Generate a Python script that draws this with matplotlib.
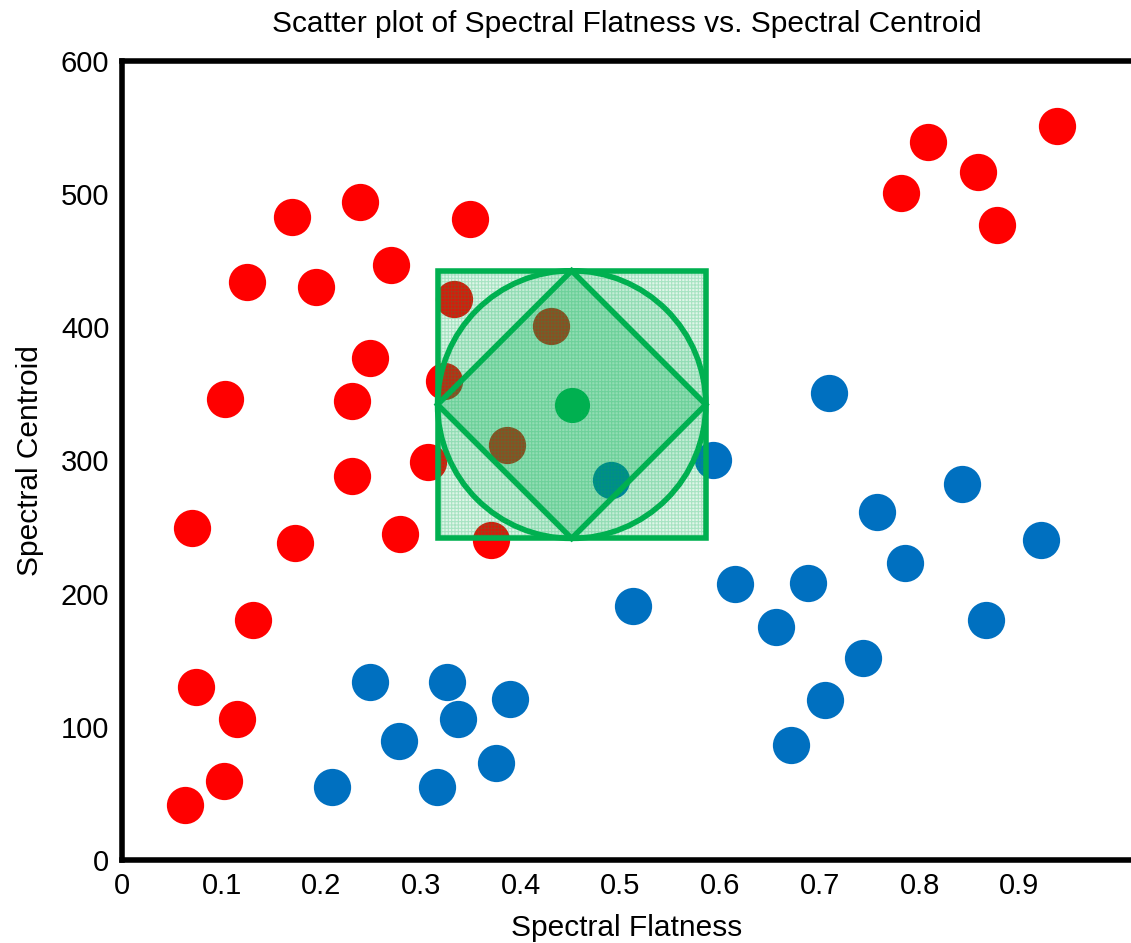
import numpy as np
import matplotlib
matplotlib.use('Agg')
import matplotlib.pyplot as plt
from matplotlib.patches import Rectangle, Ellipse, Polygon

plt.rcParams['font.family'] = ['Liberation Sans', 'DejaVu Sans']
plt.rcParams['hatch.linewidth'] = 0.8

# red cluster (x = spectral flatness, y = spectral centroid)
red_x = [0.938, 0.808, 0.859, 0.781, 0.878, 0.239, 0.171, 0.349, 0.270, 0.125,
         0.195, 0.333, 0.249, 0.430, 0.323, 0.103, 0.231, 0.386, 0.307, 0.231,
         0.070, 0.174, 0.279, 0.370, 0.131, 0.074, 0.115, 0.102, 0.063]
red_y = [551, 539, 517, 501, 477, 494, 483, 481, 447, 434,
         430, 421, 377, 401, 360, 346, 345, 312, 299, 288,
         249, 238, 245, 240, 180, 130, 106, 59, 41]

# blue cluster
blue_x = [0.709, 0.593, 0.490, 0.843, 0.757, 0.922, 0.785, 0.615, 0.688, 0.513,
          0.656, 0.867, 0.743, 0.249, 0.326, 0.389, 0.337, 0.705, 0.278, 0.671,
          0.375, 0.211, 0.316]
blue_y = [351, 300, 285, 282, 261, 240, 223, 207, 208, 191,
          175, 180, 152, 134, 134, 121, 106, 120, 89, 86,
          73, 55, 55]

# query point and neighbourhood half-size
center = (0.451, 342)
half_x = 0.1345
half_y = 100.5

red = '#FF0000'
blue = '#0070C0'
green = '#00B050'

fig = plt.figure(figsize=(11.31, 9.43), dpi=100)
ax = fig.add_axes([122 / 1131, 83 / 943, 1 - 122 / 1131, (860 - 61) / 943])

ax.scatter(red_x, red_y, s=720, color=red, linewidths=0, zorder=2)
ax.scatter(blue_x, blue_y, s=720, color=blue, linewidths=0, zorder=2)

cx, cy = center
x0, x1 = cx - half_x, cx + half_x
y0, y1 = cy - half_y, cy + half_y

# square neighbourhood, hatched fill
ax.add_patch(Rectangle((x0, y0), x1 - x0, y1 - y0, facecolor=green, alpha=0.12,
                       linewidth=0, zorder=3))
ax.add_patch(Rectangle((x0, y0), x1 - x0, y1 - y0, facecolor='none', edgecolor=green,
                       hatch='+++++', alpha=0.25, linewidth=0, zorder=3))
ax.add_patch(Rectangle((x0, y0), x1 - x0, y1 - y0, facecolor='none', edgecolor=green,
                       linewidth=4, zorder=5))

# circle (ellipse in data units, round on screen)
ax.add_patch(Ellipse((cx, cy), 2 * half_x, 2 * half_y, facecolor=green, alpha=0.12,
                     linewidth=0, zorder=3))
ax.add_patch(Ellipse((cx, cy), 2 * half_x, 2 * half_y, facecolor='none', edgecolor=green,
                     linewidth=4, zorder=5))

# diamond
diamond = [(cx, y1), (x1, cy), (cx, y0), (x0, cy)]
ax.add_patch(Polygon(diamond, closed=True, facecolor=green, alpha=0.25,
                     linewidth=0, zorder=3))
ax.add_patch(Polygon(diamond, closed=True, facecolor='none', edgecolor=green,
                     linewidth=4, joinstyle='miter', zorder=5))

ax.scatter([cx], [cy], s=640, color=green, linewidths=0, zorder=6)

ax.set_xlim(0, 1009 / 997)
ax.set_ylim(0, 600)
ax.set_xticks(np.arange(0, 1.0, 0.1))
ax.set_xticklabels(['0', '0.1', '0.2', '0.3', '0.4', '0.5', '0.6', '0.7', '0.8', '0.9'])
ax.set_yticks(np.arange(0, 601, 100))
ax.tick_params(length=0, labelsize=21, pad=9)

for side in ['left', 'bottom', 'top']:
    ax.spines[side].set_linewidth(4)
ax.spines['right'].set_visible(False)

ax.set_xlabel('Spectral Flatness', fontsize=21.5, labelpad=10)
ax.set_ylabel('Spectral Centroid', fontsize=21.5, labelpad=12)
ax.set_title('Scatter plot of Spectral Flatness vs. Spectral Centroid', fontsize=21.5, pad=21)

fig.savefig('out.png', dpi=100)
